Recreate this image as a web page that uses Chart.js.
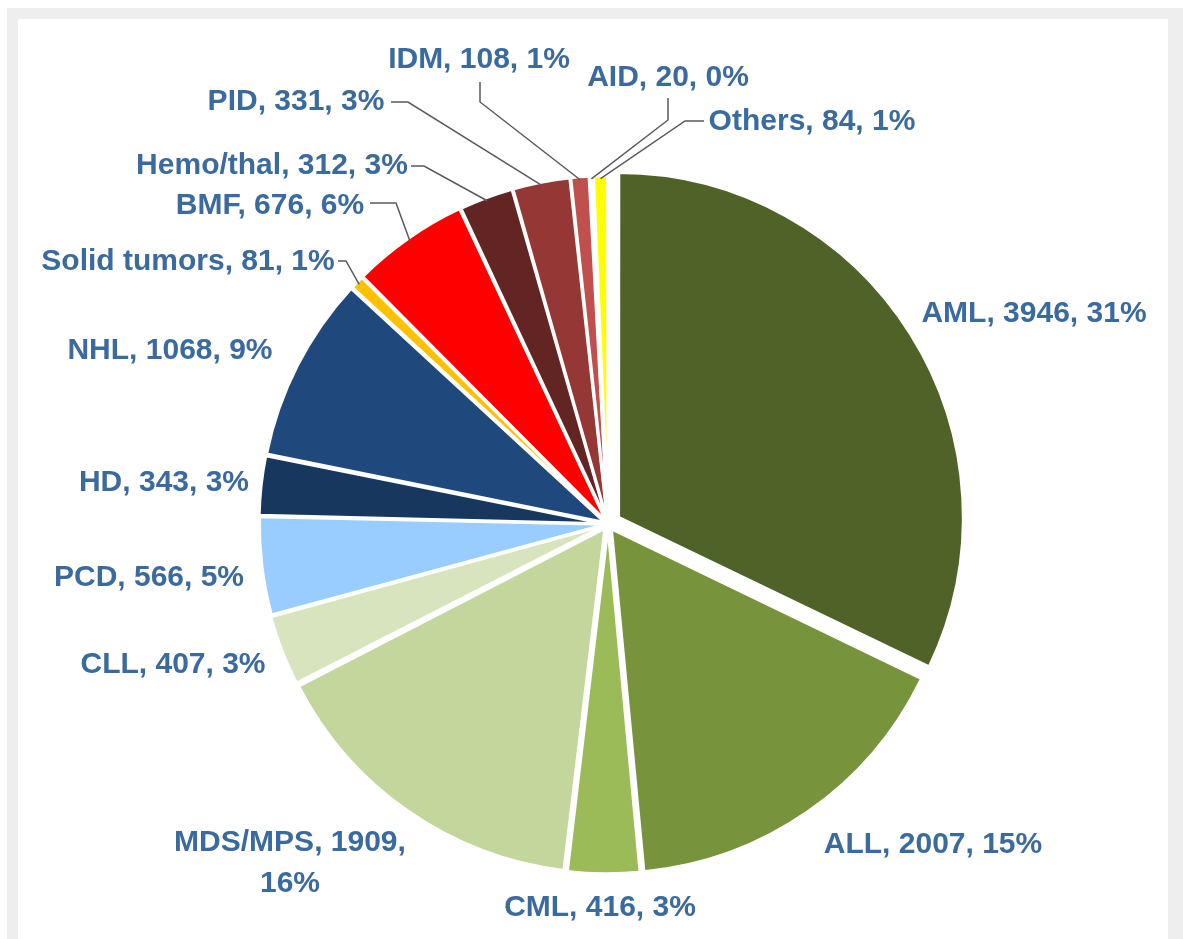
<!DOCTYPE html>
<html>
<head>
<meta charset="utf-8">
<script src="https://cdn.jsdelivr.net/npm/chart.js@4/dist/chart.umd.min.js"></script>
<style>
  html, body { margin: 0; padding: 0; background: #ffffff; width: 1183px; height: 939px; overflow: hidden; }
  #frame { position: absolute; left: 7px; top: 8px; right: 0; bottom: 0; background: #eeeeee; }
  #inner { position: absolute; left: 18px; top: 19px; width: 1150px; bottom: 0; background: #ffffff; }
  #c { position: absolute; left: 0; top: 0; }
</style>
</head>
<body>
<div id="frame"></div>
<div id="inner"></div>
<canvas id="c" width="1183" height="939"></canvas>
<script>
// ---- data ----
const categories = ['AML', 'ALL', 'CML', 'MDS/MPS', 'CLL', 'PCD', 'HD', 'NHL',
  'Solid tumors', 'BMF', 'Hemo/thal', 'PID', 'IDM', 'AID', 'Others'];
const values = [3946, 2007, 416, 1909, 407, 566, 343, 1068, 81, 676, 312, 331, 108, 20, 84];
const percentLabels = [31, 15, 3, 16, 3, 5, 3, 9, 1, 6, 3, 3, 1, 0, 1];

// ---- styles ----
const sliceColors = ['#4f6228', '#77933c', '#9bbb59', '#c3d69b', '#d7e4bd', '#99ccff',
  '#17375e', '#1f497d', '#ffc000', '#ff0000', '#632523', '#953735', '#c0504d', '#c00000', '#ffff00'];
const sliceOffsets = [50, 24, 14, 22, 14, 12, 12, 14, 10, 12, 10, 10, 10, 10, 10];

// label placement (text centre) and optional leader line [startX, startY, elbowX, elbowY]
const labelLayout = [
  { x: 1034, y: 314 },
  { x: 933, y: 845 },
  { x: 600, y: 908 },
  { x: 290, y: 843, split: true, lineGap: 41 },
  { x: 173, y: 665 },
  { x: 149, y: 578 },
  { x: 164, y: 483 },
  { x: 170, y: 351 },
  { x: 188, y: 262, leader: [338, 261, 346, 261] },
  { x: 270, y: 206, leader: [370, 203, 396, 203] },
  { x: 272, y: 166, leader: [411, 166, 424, 166] },
  { x: 296, y: 102, leader: [391, 102, 408, 102] },
  { x: 479, y: 60, leader: [480, 82, 480, 102] },
  { x: 668, y: 78, leader: [668, 98, 668, 120] },
  { x: 812, y: 122, leader: [704, 121, 685, 121] }
];

// effective displacement Chart.js v4 applies to an arc for a given offset option
function arcShift(arc) {
  const off = (arc.options.offset || 0) / 4;
  const circ = arc.endAngle - arc.startAngle;
  const fix = 1 - Math.sin(Math.min(Math.PI, circ || 0));
  return off * (1 + fix);
}

const labelPlugin = {
  id: 'sliceLabels',
  afterDatasetsDraw(chart) {
    const ctx = chart.ctx;
    const meta = chart.getDatasetMeta(0);
    ctx.save();
    ctx.strokeStyle = '#5a5a5a';
    ctx.lineWidth = 1.5;
    meta.data.forEach((arc, i) => {
      const lay = labelLayout[i];
      if (!lay.leader) return;
      const p = arc.getProps(['x', 'y', 'startAngle', 'endAngle', 'outerRadius'], true);
      const mid = (p.startAngle + p.endAngle) / 2;
      const rr = p.outerRadius + arcShift(arc) - 3;
      const ex = p.x + Math.cos(mid) * rr;
      const ey = p.y + Math.sin(mid) * rr;
      ctx.beginPath();
      ctx.moveTo(lay.leader[0], lay.leader[1]);
      ctx.lineTo(lay.leader[2], lay.leader[3]);
      ctx.lineTo(ex, ey);
      ctx.stroke();
    });
    ctx.fillStyle = '#3a6a9e';
    ctx.font = 'bold 30px "Liberation Sans", Arial, sans-serif';
    ctx.textAlign = 'center';
    ctx.textBaseline = 'middle';
    categories.forEach((cat, i) => {
      const lay = labelLayout[i];
      if (lay.split) {
        ctx.fillText(cat + ', ' + values[i] + ',', lay.x, lay.y);
        ctx.fillText(percentLabels[i] + '%', lay.x, lay.y + lay.lineGap);
      } else {
        ctx.fillText(cat + ', ' + values[i] + ', ' + percentLabels[i] + '%', lay.x, lay.y);
      }
    });
    ctx.restore();
  }
};

new Chart(document.getElementById('c'), {
  type: 'pie',
  data: {
    labels: categories,
    datasets: [{
      data: values,
      backgroundColor: sliceColors,
      borderColor: '#ffffff',
      borderWidth: 3,
      offset: sliceOffsets
    }]
  },
  options: {
    responsive: false,
    devicePixelRatio: 1,
    animation: false,
    layout: { padding: { top: 154, bottom: 45, left: 198, right: 165 } },
    plugins: {
      legend: { display: false },
      tooltip: { enabled: false },
      title: { display: false }
    }
  },
  plugins: [labelPlugin]
});
</script>
</body>
</html>
